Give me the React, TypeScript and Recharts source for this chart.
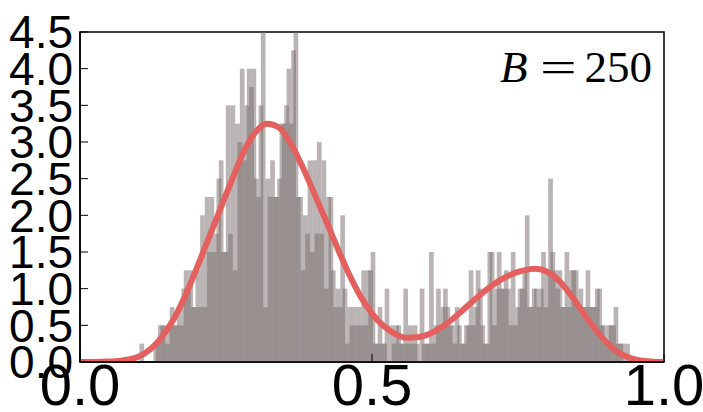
import React from 'react';
import { ComposedChart, Bar, Line, XAxis, YAxis, ReferenceArea } from 'recharts';

// Histogram density values, 250 bins on [0, 1]
const density: number[] = [
  0, 0, 0, 0, 0, 0, 0, 0, 0, 0,
  0, 0, 0, 0, 0, 0, 0, 0, 0, 0,
  0, 0, 0, 0, 0, 0, 0.25, 0, 0, 0,
  0, 0, 0.25, 0.25, 0.5, 0.5, 0.5, 0.25, 0.5, 0.75,
  0.5, 0.5, 0.75, 0.5, 1.0, 1.25, 1.0, 1.25, 0.75, 0.75,
  1.25, 0.75, 2.0, 0.75, 2.25, 1.5, 2.25, 1.5, 1.75, 2.5,
  2.75, 1.5, 1.5, 3.5, 1.75, 3.5, 1.25, 3.25, 3.0, 4.0,
  2.75, 3.5, 4.0, 3.75, 4.0, 2.5, 2.25, 3.5, 4.5, 0.75,
  2.5, 2.25, 2.75, 2.25, 2.25, 2.5, 3.25, 3.25, 3.5, 4.0,
  3.25, 4.25, 4.5, 2.25, 2.25, 1.25, 2.0, 1.75, 2.75, 1.5,
  2.75, 1.75, 3.0, 1.75, 2.75, 1.0, 2.25, 2.25, 1.25, 0.75,
  1.0, 0.75, 2.0, 1.0, 0.25, 0.75, 0.5, 0.75, 0.5, 0.75,
  0.5, 1.25, 0.5, 1.25, 1.25, 1.5, 0.25, 0.25, 0.75, 0.25,
  0.25, 1.0, 0, 0.5, 0.25, 0.5, 0.5, 0.25, 0.25, 1.0,
  0.25, 0.5, 0.25, 0.5, 0.25, 0, 1.0, 0.25, 0.25, 0.25,
  1.5, 0.25, 0.5, 1.0, 0.5, 0.75, 1.0, 0.75, 0.5, 0.5,
  0.25, 0.75, 0.5, 0.25, 0.25, 0.5, 0.5, 1.25, 0.5, 0.75,
  1.25, 1.0, 0.5, 0.25, 0.25, 1.5, 1.5, 0.5, 1.0, 1.5,
  1.0, 1.0, 1.25, 1.0, 0.5, 1.5, 0.5, 0.75, 1.0, 1.0,
  1.25, 2.0, 0.75, 0.75, 1.0, 1.0, 0.75, 1.0, 1.5, 0.75,
  1.25, 2.5, 1.5, 1.25, 1.0, 1.25, 0.75, 0.75, 1.5, 0.75,
  1.25, 1.25, 1.25, 0.75, 1.0, 0.75, 0.75, 1.25, 0.75, 0.75,
  0.75, 1.0, 1.0, 0.5, 0.5, 0.25, 0.5, 0.5, 0.5, 0.75,
  0.25, 0.25, 0.25, 0, 0.25, 0, 0, 0, 0, 0,
  0, 0, 0, 0, 0, 0, 0, 0, 0, 0,
];

// Kernel density estimate curve
const kdeX: number[] = [
  0, 0.04, 0.06, 0.08, 0.1, 0.12, 0.14, 0.16, 0.18, 0.2,
  0.22, 0.24, 0.26, 0.28, 0.3, 0.32, 0.34, 0.36, 0.38, 0.4,
  0.42, 0.44, 0.46, 0.48, 0.5, 0.52, 0.54, 0.56, 0.58, 0.6,
  0.62, 0.64, 0.66, 0.68, 0.7, 0.72, 0.74, 0.76, 0.78, 0.8,
  0.82, 0.84, 0.86, 0.88, 0.9, 0.92, 0.94, 0.96, 0.98, 1.0,
];
const kdeY: number[] = [
  0, 0.005, 0.01, 0.03, 0.07, 0.17, 0.34, 0.58, 0.9, 1.28,
  1.68, 2.08, 2.48, 2.86, 3.13, 3.25, 3.2, 2.99, 2.68, 2.32,
  1.95, 1.57, 1.21, 0.9, 0.66, 0.49, 0.38, 0.33, 0.34, 0.39,
  0.48, 0.6, 0.74, 0.88, 1.01, 1.12, 1.2, 1.25, 1.27, 1.23,
  1.11, 0.92, 0.69, 0.47, 0.28, 0.14, 0.06, 0.02, 0.005, 0,
];

const yTicks: number[] = [0, 0.5, 1, 1.5, 2, 2.5, 3, 3.5, 4, 4.5];
const xTicks: number[] = [0, 0.5, 1];
const annotation = { name: 'B', value: '250' };

const W = 703;
const H = 412;
const M = { top: 32, right: 39, bottom: 0, left: 0 };
const Y_AXIS_W = 80;
const X_AXIS_H = 50;
const PLOT_W = W - M.left - M.right - Y_AXIS_W;
const NBINS = density.length;
const BAND = PLOT_W / NBINS;

const binData = density.map((d, i) => ({ bin: i, d }));
const kdeData = kdeX.map((x, i) => ({ x, y: kdeY[i] }));

const HistBar = (props: any) => {
  const { x, y, width, height } = props;
  if (!height || height <= 0) return <g />;
  const cx = x + width / 2;
  const w = BAND * 2;
  return <rect x={cx - w / 2} y={y} width={w} height={height} fill="#766a6a" fillOpacity={0.5} />;
};

const fmt = (v: number) => v.toFixed(1);
const axisLine = { stroke: '#000', strokeWidth: 1.5 };
const tickLine = { stroke: '#000', strokeWidth: 1 };

export default function App() {
  return (
    <div style={{ position: 'absolute', left: 0, top: 0, width: W, height: H, background: '#fff' }}>
      <ComposedChart width={W} height={H} data={binData} margin={M} barCategoryGap={0} barGap={0}>
        <XAxis xAxisId="bins" dataKey="bin" type="category" hide height={0} />
        <XAxis
          xAxisId="num"
          dataKey="x"
          type="number"
          domain={[0, 1]}
          ticks={xTicks}
          tickFormatter={fmt}
          allowDataOverflow
          height={X_AXIS_H}
          tickSize={-8}
          tickMargin={10}
          axisLine={axisLine}
          tickLine={tickLine}
          tick={{ fill: '#000', fontSize: 58, fontFamily: 'Liberation Sans' }}
          interval={0}
        />
        <XAxis
          xAxisId="top"
          orientation="top"
          type="number"
          domain={[0, 1]}
          ticks={xTicks}
          allowDataOverflow
          height={0}
          tickSize={-8}
          axisLine={axisLine}
          tickLine={tickLine}
          tick={false}
        />
        <YAxis
          yAxisId="l"
          domain={[0, 4.5]}
          ticks={yTicks}
          tickFormatter={fmt}
          allowDataOverflow
          width={Y_AXIS_W}
          tickSize={-8}
          tickMargin={15}
          axisLine={axisLine}
          tickLine={tickLine}
          tick={{ fill: '#000', fontSize: 46, fontFamily: 'Liberation Sans' }}
          interval={0}
        />
        <YAxis
          yAxisId="r"
          orientation="right"
          domain={[0, 4.5]}
          ticks={yTicks}
          allowDataOverflow
          width={0}
          tickSize={-8}
          axisLine={axisLine}
          tickLine={tickLine}
          tick={false}
        />
        <Bar xAxisId="bins" yAxisId="l" dataKey="d" shape={HistBar} isAnimationActive={false} />
        <Line
          xAxisId="num"
          yAxisId="l"
          data={kdeData}
          dataKey="y"
          type="monotone"
          stroke="#e4605f"
          strokeWidth={6}
          dot={false}
          activeDot={false}
          isAnimationActive={false}
        />
        <ReferenceArea
          xAxisId="num"
          yAxisId="l"
          x1={0}
          x2={1}
          y1={0}
          y2={4.5}
          fill="none"
          fillOpacity={0}
          stroke="#000"
          strokeWidth={1.5}
          ifOverflow="visible"
        />
      </ComposedChart>
      <svg width={W} height={H} style={{ position: 'absolute', left: 0, top: 0, pointerEvents: 'none' }}>
        <g fontFamily="Liberation Serif" fontSize={45} fill="#000">
          <text x={500} y={82} fontStyle="italic">{annotation.name}</text>
          <text transform="translate(558.5,82) scale(1.45,1)" textAnchor="middle">=</text>
          <text x={652} y={82} textAnchor="end">{annotation.value}</text>
        </g>
      </svg>
    </div>
  );
}
